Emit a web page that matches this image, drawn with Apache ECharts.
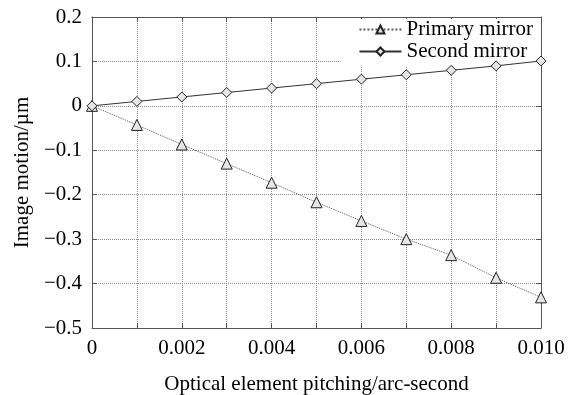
<!DOCTYPE html>
<html><head><meta charset="utf-8">
<script src="https://cdn.jsdelivr.net/npm/echarts@6/dist/echarts.min.js"></script>
<style>html,body{margin:0;padding:0;background:#fff}#c{width:578px;height:395px}</style>
</head><body><div id="c"></div>
<script>
const xValues = [0, 0.001, 0.002, 0.003, 0.004, 0.005, 0.006, 0.007, 0.008, 0.009, 0.010];
const primaryMirror = [0, -0.043, -0.087, -0.130, -0.173, -0.217, -0.259, -0.300, -0.336, -0.387, -0.431];
const secondMirror = [0, 0.010, 0.020, 0.030, 0.040, 0.050, 0.060, 0.070, 0.080, 0.090, 0.101];
const seriesNames = ['Primary mirror', 'Second mirror'];
const xTitle = 'Optical element pitching/arc-second';
const yTitle = 'Image motion/\u00b5m';

const FONT = '"Liberation Serif", "DejaVu Serif", serif';
const axisColor = '#555';
function yFmt(v){ const r = Math.round(v*10)/10; if (r===0) return '0'; return (r<0?'\u2212':'') + Math.abs(r).toFixed(1); }
function xFmt(v){ const k = Math.round(v*1000); if (k%2) return ''; if (k===0) return '0'; return (k/1000).toFixed(3); }

const chart = echarts.init(document.getElementById('c'));
const pts = arr => xValues.map((x,i)=>[x, arr[i]]);
chart.setOption({
  animation:false,
  backgroundColor:'#fff',
  grid:{left:92,right:37,top:17,bottom:67, containLabel:false, outerBoundsMode:'none'},
  legend:{
    orient:'vertical', right:42, top:19, itemWidth:42, itemHeight:10, itemGap:1,
    backgroundColor:'#fff', padding:[0,3,4,18],
    textStyle:{fontFamily:FONT, fontSize:21, color:'#000'},
    data:seriesNames
  },
  xAxis:[{
    type:'value', min:0, max:0.01, interval:0.001,
    name:xTitle, nameLocation:'middle', nameGap:46,
    nameTextStyle:{fontFamily:FONT, fontSize:21, color:'#000'},
    axisLine:{onZero:false, lineStyle:{color:axisColor, width:1}},
    axisTick:{inside:true, length:5, lineStyle:{color:axisColor}},
    axisLabel:{formatter:xFmt, fontFamily:FONT, fontSize:21, color:'#000', margin:10, showMinLabel:true, showMaxLabel:true},
    splitLine:{show:true, lineStyle:{type:'dotted', color:'#8a8a8a', width:1}}
  },{
    type:'value', position:'top', min:0, max:0.01, interval:0.001,
    axisLine:{onZero:false, lineStyle:{color:axisColor}},
    axisTick:{inside:true, length:5, lineStyle:{color:axisColor}},
    axisLabel:{show:false}, splitLine:{show:false}
  }],
  yAxis:[{
    type:'value', min:-0.5, max:0.2, interval:0.1,
    name:yTitle, nameLocation:'middle', nameGap:53,
    nameTextStyle:{fontFamily:FONT, fontSize:21, color:'#000'},
    axisLine:{show:true, onZero:false, lineStyle:{color:axisColor}},
    axisTick:{show:true, inside:true, length:5, lineStyle:{color:axisColor}},
    axisLabel:{formatter:yFmt, fontFamily:FONT, fontSize:21, color:'#000', margin:10},
    splitLine:{show:true, lineStyle:{type:'dotted', color:'#8a8a8a', width:1}}
  },{
    type:'value', position:'right', min:-0.5, max:0.2, interval:0.1,
    axisLine:{show:true, onZero:false, lineStyle:{color:axisColor}},
    axisTick:{show:true, inside:true, length:5, lineStyle:{color:axisColor}},
    axisLabel:{show:false}, splitLine:{show:false}
  }],
  series:[{
    name:seriesNames[0], type:'line', data:pts(primaryMirror),
    symbol:'triangle', symbolSize:11, showAllSymbol:true,
    lineStyle:{type:'dotted', color:'#555', width:1},
    itemStyle:{color:'#e6e6e6', borderColor:'#222', borderWidth:1},
    z:5
  },{
    name:seriesNames[1], type:'line', data:pts(secondMirror),
    symbol:'diamond', symbolSize:10, showAllSymbol:true,
    lineStyle:{type:'solid', color:'#333', width:1},
    itemStyle:{color:'#e6e6e6', borderColor:'#222', borderWidth:1},
    z:5
  }]
});
</script></body></html>
